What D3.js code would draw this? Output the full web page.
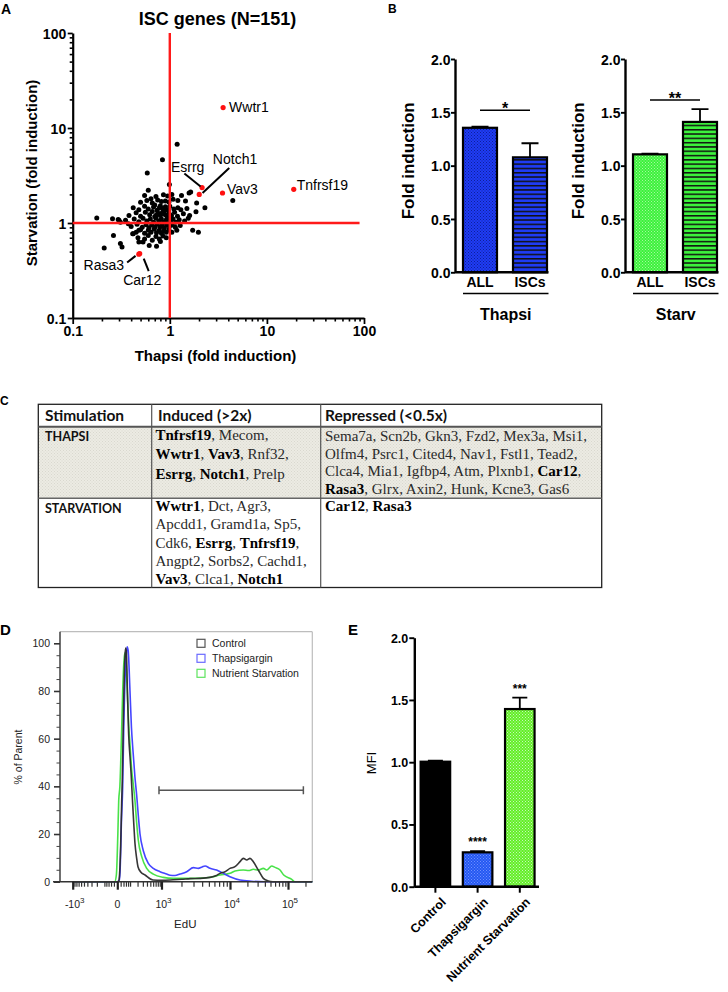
<!DOCTYPE html>
<html><head><meta charset="utf-8">
<script src="https://cdn.jsdelivr.net/npm/d3@7"></script>
<style>
body{margin:0;background:#fff}
svg{display:block;font-family:"Liberation Sans",Arial,sans-serif}
</style>
</head><body>
<svg id="c" width="728" height="992"></svg>
<script>
// ================= DATA =================
// Panel A: ISC genes scatter (Thapsi fold induction, Starvation fold induction)
const scatterBlack = [
 [0.177,1.13],[0.257,1.11],[0.211,0.545],[0.263,0.74],[0.31,0.61],[0.322,0.56],[0.294,1.09],[0.30,1.07],[0.31,1.02],
 [0.374,0.98],[0.415,0.77],[0.42,0.77],[0.48,0.84],[0.48,0.63],[0.614,0.58],[0.73,0.57],[1.72,0.84],[1.97,0.80],
 [2.3,1.45],[4.45,1.73],[1.19,6.73],[0.84,4.64],[0.586,3.36],[0.60,2.21],[0.99,2.55],[1.58,2.07],[1.64,2.12],
 [1.89,1.62],[1.86,1.31],[1.21,1.73],[1.21,1.45],
 [0.55,1.95],[0.72,1.9],[0.86,1.98],[0.95,1.92],[1.05,2.0],[1.32,1.95],[0.64,1.8],
 [0.50,1.65],[0.58,1.72],[0.66,1.62],[0.75,1.75],[0.82,1.68],[0.9,1.7],[0.98,1.66],[1.08,1.78],[1.45,1.7],[0.70,1.55],
 [0.42,1.45],[0.48,1.38],[0.55,1.5],[0.6,1.4],[0.68,1.47],[0.74,1.36],[0.8,1.52],[0.85,1.42],[0.9,1.48],[0.95,1.38],
 [1.0,1.5],[1.1,1.4],[1.3,1.38],[1.5,1.42],[0.78,1.45],[0.88,1.35],
 [0.38,1.2],[0.45,1.28],[0.5,1.18],[0.56,1.3],[0.62,1.22],[0.66,1.32],[0.7,1.17],[0.76,1.27],[0.8,1.2],[0.84,1.3],
 [0.9,1.22],[0.94,1.16],[0.98,1.28],[1.04,1.2],[1.12,1.3],[1.2,1.18],[1.38,1.25],[1.6,1.2],[0.73,1.22],[0.87,1.25],
 [0.35,1.07],[0.43,1.1],[0.48,1.03],[0.53,1.12],[0.58,1.05],[0.63,1.1],[0.68,1.02],[0.72,1.12],[0.77,1.05],[0.82,1.1],
 [0.86,1.02],[0.92,1.08],[0.97,1.13],[1.02,1.04],[1.08,1.1],[1.15,1.02],[1.25,1.08],[1.42,1.05],[1.55,1.12],
 [0.4,0.92],[0.46,0.97],[0.52,0.9],[0.57,0.96],[0.61,0.89],[0.65,0.95],[0.7,0.9],[0.74,0.97],[0.79,0.91],[0.83,0.95],
 [0.88,0.89],[0.93,0.96],[0.99,0.92],[1.06,0.95],[1.14,0.9],[1.28,0.94],
 [0.45,0.8],[0.5,0.85],[0.55,0.78],[0.6,0.84],[0.64,0.8],[0.69,0.86],[0.73,0.79],[0.78,0.84],[0.82,0.78],[0.87,0.83],
 [0.92,0.8],[0.98,0.85],[1.05,0.8],[1.18,0.84],
 [0.47,0.7],[0.55,0.68],[0.6,0.74],[0.66,0.66],[0.72,0.72],[0.78,0.68],[0.85,0.73],[0.92,0.7],[0.53,0.63],[0.8,0.64]
];
const redGenes  = ["Wwtr1","Esrrg","Notch1","Vav3","Tnfrsf19","Rasa3","Car12"];
const redThapsi = [3.54, 2.15, 2.01, 3.49, 18.9, 0.48, 0.49];
const redStarv  = [16.4, 2.36, 2.0, 2.07, 2.26, 0.47, 0.476];
const logTicksA = [0.1, 1, 10, 100];
const logTickLabelsA = ["0.1","1","10","100"];

// Panel B
const bCats = ["ALL","ISCs"];
const thapsiMean = [1.355, 1.078];
const thapsiErrTop = [1.365, 1.21];
const starvMean = [1.106, 1.41];
const starvErrTop = [1.112, 1.53];
const bTicks = [0, 0.5, 1.0, 1.5, 2.0];
const thapsiSig = {level: 1.52, label: "*"};
const starvSig = {level: 1.615, label: "**"};

// Panel C table
const tableHeader = ["Stimulation","Induced (>2x)","Repressed (<0.5x)"];
const thapsiInduced = [
 [["Tnfrsf19",1],[", Mecom,",0]],
 [["Wwtr1",1],[", ",0],["Vav3",1],[", Rnf32,",0]],
 [["Esrrg",1],[", ",0],["Notch1",1],[", Prelp",0]]
];
const thapsiRepressed = [
 [["Sema7a, Scn2b, Gkn3, Fzd2, Mex3a, Msi1,",0]],
 [["Olfm4, Psrc1, Cited4, Nav1, Fstl1, Tead2,",0]],
 [["Clca4, Mia1, Igfbp4, Atm, Plxnb1, ",0],["Car12",1],[",",0]],
 [["Rasa3",1],[", Glrx, Axin2, Hunk, Kcne3, Gas6",0]]
];
const starvInduced = [
 [["Wwtr1",1],[", Dct, Agr3,",0]],
 [["Apcdd1, Gramd1a, Sp5,",0]],
 [["Cdk6, ",0],["Esrrg",1],[", ",0],["Tnfrsf19",1],[",",0]],
 [["Angpt2, Sorbs2, Cachd1,",0]],
 [["Vav3",1],[", Clca1, ",0],["Notch1",1]]
];
const starvRepressed = [[["Car12",1],[", ",0],["Rasa3",1]]];

// Panel D histograms [EdU, % of Parent]
const controlHist = [[-1000,0],[0,0],[8,0.3],[12,2],[20,15],[27,34],[31,42],[38,65],[44,82],[52,95],[58,98],[64,96],[72,82],[85,62],[100,52],[112,45],[128,34],[145,24],[161,16],[185,10],[207,6.3],[260,4],[350,2.8],[594,0.7],[1000,0.6],[1500,0.8],[2000,1.0],[2700,1.3],[3700,1.4],[5200,1.8],[6400,2.6],[7200,3.5],[8500,4.2],[10000,5.6],[12200,6.3],[14900,8.4],[17000,9.8],[19500,9.1],[22200,9.8],[25300,8.4],[30800,4.9],[37600,1.4],[45800,0.3],[55000,0],[262144,0]];
const thapsiHist = [[-1000,0],[0,0],[10,0.3],[16,4],[25,25],[34,40],[42,65],[49,80],[60,93],[70,98.5],[80,97],[99,80],[115,65],[134,55],[160,44],[187,36],[215,27],[243,20],[310,13],[438,7.7],[605,5.6],[914,4.2],[1200,3.2],[1348,2.7],[1600,2.6],[1900,3.2],[2390,4.2],[2980,5.9],[3520,5.6],[4000,6.2],[4400,6.6],[5190,5.6],[6450,4.9],[7600,3.9],[10000,2.1],[14900,0.7],[23300,0.2],[40200,0],[262144,0]];
const starvHist = [[-1000,0],[-15,0],[-5,3],[3,20],[8,34],[15,40],[25,60],[34,80],[44,93],[52,96],[60,93],[70,82],[85,66],[99,58],[118,47],[134,42],[161,34],[185,25],[212,17.5],[276,10.5],[393,5.6],[605,3.2],[1066,1.8],[1500,1.4],[2500,1.4],[4000,1.5],[5500,2.0],[7210,2.8],[10000,3.5],[12200,4.5],[17000,4.9],[21000,4.7],[25300,5.2],[30800,4.9],[37600,5.6],[43000,4.9],[52500,6.6],[59800,6.0],[72900,4.9],[84400,2.8],[116000,1.0],[130000,0],[262144,0]];
const histNames = ["Control","Thapsigargin","Nutrient Starvation"];
const dYTicks = [0,20,40,60,80,100];
const dXMajor = [-1000,0,1000,10000,100000];
const dXLabels = [["-10","3"],["0",""],["10","3"],["10","4"],["10","5"]];
const dXMinor = [-900,-800,-700,-600,-500,-400,-300,-200,-100,-80,-60,-40,-20,20,40,60,80,100,200,300,400,500,600,700,800,900,
  2000,3000,4000,5000,6000,7000,8000,9000,20000,30000,40000,50000,60000,70000,80000,90000,200000];
const gate = {from: 860, to: 184000, level: 38.4};

// Panel E
const eCats = ["Control","Thapsigargin","Nutrient Starvation"];
const eMean = [1.004, 0.276, 1.427];
const eErrTop = [1.012, 0.285, 1.518];
const eSig = ["", "****", "***"];
const eTicks = [0, 0.5, 1.0, 1.5, 2.0];

// ================= DRAW =================
const SANS = "'Liberation Sans',Arial,sans-serif";
const svg = d3.select("#c");
svg.append("rect").attr("width",728).attr("height",992).attr("fill","#fff");
const defs = svg.append("defs");
function dotPattern(id, bg, dot, s){
  const p = defs.append("pattern").attr("id",id).attr("width",s).attr("height",s).attr("patternUnits","userSpaceOnUse");
  p.append("rect").attr("width",s).attr("height",s).attr("fill",bg);
  p.append("rect").attr("width",1).attr("height",1).attr("fill",dot);
  p.append("rect").attr("x",s/2).attr("y",s/2).attr("width",1).attr("height",1).attr("fill",dot);
}
function stripePattern(id, bg, h, lw){
  const p = defs.append("pattern").attr("id",id).attr("width",8).attr("height",h).attr("patternUnits","userSpaceOnUse");
  p.append("rect").attr("width",8).attr("height",h).attr("fill",bg);
  p.append("rect").attr("width",8).attr("height",lw).attr("fill","#111");
}
dotPattern("blueDots","#1f3cf5","#0d1f9a",3);
stripePattern("blueStripes","#1f3cf5",4.3,1.5);
dotPattern("greenDots","#3cf23c","#a8f8a0",3);
stripePattern("greenStripes","#3cf23c",4.3,1.5);
dotPattern("eBlue","#2458f2","#6f90ff",3);
dotPattern("eGreen","#63ef25","#c8f7c0",3);
dotPattern("tableBg","#ecebe3","#d9d8cf",3);

function panelLabel(t,x,y,size){
  svg.append("text").attr("x",x).attr("y",y).text(t).attr("font-weight","bold").attr("font-size",size).attr("fill","#000");
}

// ---------- Panel A ----------
panelLabel("A",1,14,14);
const xA = d3.scaleLog().domain([0.1,100]).range([72.7,364]);
const yA = d3.scaleLog().domain([0.1,100]).range([318,33]);
const minorA = [0.1,1,10].flatMap(d=>[2,3,4,5,6,7,8,9].map(k=>d*k));
const gA = svg.append("g");
gA.append("text").attr("x",217.5).attr("y",24.5).attr("text-anchor","middle")
  .attr("font-weight","bold").attr("font-size",18).text("ISC genes (N=151)");

function styleAxis(g, fs, sw){
  g.select(".domain").attr("stroke","#000").attr("stroke-width",sw);
  g.selectAll(".tick line").attr("stroke","#000").attr("stroke-width",sw*0.8);
  g.selectAll(".tick text").attr("font-weight","bold").attr("font-size",fs).attr("fill","#000")
    .attr("font-family",SANS);
}
const axAx = gA.append("g").attr("transform","translate(0,318)")
  .call(d3.axisBottom(xA).tickValues(logTicksA).tickFormat((d,i)=>logTickLabelsA[i]).tickSize(6).tickSizeOuter(0).tickPadding(2));
styleAxis(axAx,14,2.2);
const axAxm = gA.append("g").attr("transform","translate(0,318)")
  .call(d3.axisBottom(xA).tickValues(minorA).tickFormat("").tickSize(3.5).tickSizeOuter(0));
axAxm.select(".domain").remove(); axAxm.selectAll(".tick line").attr("stroke","#000").attr("stroke-width",1.6);
const axAy = gA.append("g").attr("transform","translate(72.7,0)")
  .call(d3.axisLeft(yA).tickValues(logTicksA).tickFormat((d,i)=>logTickLabelsA[i]).tickSize(5).tickSizeOuter(0).tickPadding(1.5));
styleAxis(axAy,14,2.2);
axAy.selectAll(".tick text").attr("dy","0.36em");
const axAym = gA.append("g").attr("transform","translate(72.7,0)")
  .call(d3.axisLeft(yA).tickValues(minorA).tickFormat("").tickSize(3).tickSizeOuter(0));
axAym.select(".domain").remove(); axAym.selectAll(".tick line").attr("stroke","#000").attr("stroke-width",1.6);

gA.append("text").attr("x",215.5).attr("y",361).attr("text-anchor","middle").attr("font-weight","bold")
  .attr("font-size",15).text("Thapsi (fold induction)");
gA.append("text").attr("transform","translate(37,173) rotate(-90)").attr("text-anchor","middle")
  .attr("font-weight","bold").attr("font-size",15).text("Starvation (fold induction)");

gA.append("g").selectAll("circle").data(scatterBlack).join("circle")
  .attr("cx",d=>xA(d[0])).attr("cy",d=>yA(d[1])).attr("r",2.5).attr("fill","#000");
gA.append("line").attr("x1",xA(1)).attr("x2",xA(1)).attr("y1",yA(100)).attr("y2",yA(0.1))
  .attr("stroke","#ff1a1a").attr("stroke-width",2.4);
gA.append("line").attr("x1",xA(0.1)).attr("x2",xA(90)).attr("y1",yA(1)).attr("y2",yA(1))
  .attr("stroke","#ff1a1a").attr("stroke-width",2.4);
const redPts = redGenes.map((g,i)=>({g, x:xA(redThapsi[i]), y:yA(redStarv[i])}));
gA.append("g").selectAll("circle").data(redPts).join("circle")
  .attr("cx",d=>d.x).attr("cy",d=>d.y).attr("r",2.6).attr("fill","#ff1010");
const labelLayout = {
  Wwtr1:{dx:6,dy:4.4,anchor:"start"},
  Esrrg:{dx:-14.4,dy:-15.6,anchor:"middle",lead:[-17.7,-14,-1.5,-1]},
  Notch1:{dx:35.8,dy:-30,anchor:"middle",lead:[30,-26.3,3.3,-1.3]},
  Vav3:{dx:4.5,dy:1.5,anchor:"start"},
  Tnfrsf19:{dx:3,dy:0.5,anchor:"start"},
  Rasa3:{dx:-35,dy:16,anchor:"middle",lead:[-11.7,8.4,-3.3,1.7]},
  Car12:{dx:2.5,dy:31,anchor:"middle",lead:[4,5,9,17.4]}
};
redPts.forEach(p=>{
  const L = labelLayout[p.g];
  gA.append("text").attr("x",p.x+L.dx).attr("y",p.y+L.dy).attr("text-anchor",L.anchor)
    .attr("font-size",14).attr("fill","#000").text(p.g);
  if(L.lead) gA.append("line").attr("x1",p.x+L.lead[0]).attr("y1",p.y+L.lead[1])
    .attr("x2",p.x+L.lead[2]).attr("y2",p.y+L.lead[3]).attr("stroke","#000").attr("stroke-width",2);
});

// ---------- Panel B ----------
panelLabel("B",388,13,12);
const yB = d3.scaleLinear().domain([0,2]).range([272.3,59]);
function barPanel(x0, means, errs, fills, sig, group){
  const g = svg.append("g");
  const xb = d3.scaleBand().domain(bCats).range([x0, x0+100]).paddingInner(0.32).paddingOuter(0.16);
  const ay = g.append("g").attr("transform",`translate(${x0},0)`)
    .call(d3.axisLeft(yB).tickValues(bTicks).tickFormat(d3.format(".1f")).tickSize(4).tickSizeOuter(0).tickPadding(0.5));
  styleAxis(ay,14,2.4);
  ay.selectAll(".tick text").attr("dy","0.36em");
  const bars = bCats.map((c,i)=>({c, v:means[i], e:errs[i], f:fills[i]}));
  g.selectAll(".err").data(bars).join("path")
    .attr("d",d=>{const cx=xb(d.c)+xb.bandwidth()/2; return `M${cx},${yB(d.v)}V${yB(d.e)}M${cx-8.5},${yB(d.e)}H${cx+8.5}`;})
    .attr("stroke","#000").attr("stroke-width",1.8).attr("fill","none");
  g.selectAll(".bar").data(bars).join("rect")
    .attr("x",d=>xb(d.c)).attr("width",xb.bandwidth()).attr("y",d=>yB(d.v)).attr("height",d=>yB(0)-yB(d.v))
    .attr("fill",d=>d.f).attr("stroke","#000").attr("stroke-width",2.2);
  const xend = xb(bCats[1])+xb.bandwidth()+1.5;
  g.append("line").attr("x1",x0).attr("x2",xend).attr("y1",yB(0)).attr("y2",yB(0)).attr("stroke","#000").attr("stroke-width",2.4);
  const ax = g.append("g").attr("transform",`translate(0,${yB(0)})`)
    .call(d3.axisBottom(xb).tickSize(0).tickPadding(4.5));
  ax.select(".domain").remove();
  styleAxis(ax,14,0);
  g.append("line").attr("x1",xb(bCats[0])).attr("x2",xend).attr("y1",293.5).attr("y2",293.5).attr("stroke","#000").attr("stroke-width",1.5);
  g.append("text").attr("x",(xb(bCats[0])+xend)/2).attr("y",320).attr("text-anchor","middle")
    .attr("font-weight","bold").attr("font-size",16).text(group);
  const c0 = xb(bCats[0])+xb.bandwidth()/2, c1 = xb(bCats[1])+xb.bandwidth()/2;
  g.append("line").attr("x1",c0).attr("x2",c1).attr("y1",yB(sig.level)).attr("y2",yB(sig.level)).attr("stroke","#000").attr("stroke-width",1.5);
  g.append("text").attr("x",(c0+c1)/2).attr("y",yB(sig.level)+3.5).attr("text-anchor","middle")
    .attr("font-weight","bold").attr("font-size",16).text(sig.label);
  g.append("text").attr("transform",`translate(${x0-41},160.8) rotate(-90)`).attr("text-anchor","middle")
    .attr("font-weight","bold").attr("font-size",17).text("Fold induction");
}
barPanel(455, thapsiMean, thapsiErrTop, ["url(#blueDots)","url(#blueStripes)"], thapsiSig, "Thapsi");
barPanel(625, starvMean, starvErrTop, ["url(#greenDots)","url(#greenStripes)"], starvSig, "Starv");

// ---------- Panel C: table ----------
panelLabel("C",0,405,12);
const gC = svg.append("g");
const colX = [38.3,151.7,320.7,601.7];
const rowY = [404.3,426.7,498.3,587.5];
gC.append("rect").attr("x",colX[0]).attr("y",rowY[1]).attr("width",colX[3]-colX[0]).attr("height",rowY[2]-rowY[1]).attr("fill","url(#tableBg)");
gC.append("rect").attr("x",colX[0]).attr("y",rowY[0]).attr("width",colX[3]-colX[0]).attr("height",rowY[3]-rowY[0])
  .attr("fill","none").attr("stroke","#222").attr("stroke-width",1.3);
gC.append("line").attr("x1",colX[0]).attr("x2",colX[3]).attr("y1",rowY[1]).attr("y2",rowY[1]).attr("stroke","#555").attr("stroke-width",2);
gC.append("line").attr("x1",colX[0]).attr("x2",colX[3]).attr("y1",rowY[2]).attr("y2",rowY[2]).attr("stroke","#666").attr("stroke-width",1.6);
[colX[1],colX[2]].forEach(x=>gC.append("line").attr("x1",x).attr("x2",x).attr("y1",rowY[0]).attr("y2",rowY[3]).attr("stroke","#555").attr("stroke-width",1.2));
const hdrX = [45,158,325];
tableHeader.forEach((h,i)=>gC.append("text").attr("x",hdrX[i]).attr("y",420.5).text(h)
  .attr("font-family","Lato,'Open Sans',sans-serif").attr("font-weight",700).attr("font-size",15.5).attr("fill","#111"));
gC.append("text").attr("x",45).attr("y",441).text("THAPSI").attr("font-family","Lato,sans-serif").attr("font-weight",700).attr("font-size",12.5).attr("fill","#111");
gC.append("text").attr("x",45).attr("y",513).text("STARVATION").attr("font-family","Lato,sans-serif").attr("font-weight",700).attr("font-size",12.5).attr("fill","#111");
function cellLines(lines, x, y0, lh){
  lines.forEach((segs,i)=>{
    const t = gC.append("text").attr("x",x).attr("y",y0+i*lh)
      .attr("font-family","'Liberation Serif','DejaVu Serif',serif").attr("font-size",15).attr("fill","#1a1a1a");
    segs.forEach(s=>t.append("tspan").text(s[0]).attr("font-weight",s[1]?"bold":"normal").attr("fill",s[1]?"#000":"#2a2a2a"));
  });
}
cellLines(thapsiInduced,155.5,440,19.3);
cellLines(thapsiRepressed,325,441,17.5);
cellLines(starvInduced,155.5,511,18.3);
cellLines(starvRepressed,325,511,18.3);

// ---------- Panel D: histogram ----------
panelLabel("D",0,635,15);
const gD = svg.append("g");
const xD = d3.scaleSymlog().constant(100).domain([-1000,0,1000,10000,100000,262144]).range([72.7,117.3,161.5,230,288,312.3]);
const yD = d3.scaleLinear().domain([0,100]).range([881.7,643.3]);
gD.append("line").attr("x1",60).attr("x2",312.3).attr("y1",631.7).attr("y2",631.7).attr("stroke","#bdbdbd").attr("stroke-width",1.2);
gD.append("line").attr("x1",312.3).attr("x2",312.3).attr("y1",631.7).attr("y2",881.7).attr("stroke","#bdbdbd").attr("stroke-width",1.2);
const lineD = d3.line().x(d=>xD(d[0])).y(d=>yD(d[1])).curve(d3.curveMonotoneX);
const histColors = ["#2b2b2b","#3b3bff","#3fe03f"];
[starvHist, thapsiHist, controlHist].forEach((h,i)=>{
  const col = [histColors[2],histColors[1],histColors[0]][i];
  gD.append("path").datum(h).attr("d",lineD).attr("fill","none").attr("stroke",col).attr("stroke-width",1.6).attr("stroke-opacity",0.95);
});
const ayD = gD.append("g").attr("transform","translate(60,0)")
  .call(d3.axisLeft(yD).tickValues(dYTicks).tickSize(6).tickPadding(4).tickSizeOuter(0));
ayD.select(".domain").attr("stroke","#333").attr("stroke-width",1.4).attr("d","M0,631.7V881.7");
ayD.selectAll(".tick line").attr("stroke","#333").attr("stroke-width",1.6);
ayD.selectAll(".tick text").attr("font-size",10.5).attr("fill","#222").attr("font-family",SANS);
const ayDm = gD.append("g").attr("transform","translate(60,0)")
  .call(d3.axisLeft(yD).tickValues(d3.range(0,101,5).filter(v=>v%20)).tickSize(3.5).tickFormat("").tickSizeOuter(0));
ayDm.select(".domain").remove(); ayDm.selectAll(".tick line").attr("stroke","#444").attr("stroke-width",1);
gD.append("line").attr("x1",53).attr("x2",312.3).attr("y1",881.7).attr("y2",881.7).attr("stroke","#333").attr("stroke-width",1.6);
const axDM = gD.append("g").attr("transform","translate(0,881.7)")
  .call(d3.axisBottom(xD).tickValues(dXMajor).tickSize(8).tickFormat("").tickSizeOuter(0));
axDM.select(".domain").remove(); axDM.selectAll(".tick line").attr("stroke","#222").attr("stroke-width",2.2);
const axDm = gD.append("g").attr("transform","translate(0,881.7)")
  .call(d3.axisBottom(xD).tickValues(dXMinor).tickSize(5).tickFormat("").tickSizeOuter(0));
axDm.select(".domain").remove(); axDm.selectAll(".tick line").attr("stroke","#333").attr("stroke-width",1.2);
dXMajor.forEach((v,i)=>{
  const t = gD.append("text").attr("x",xD(v)+(dXLabels[i][1]?2:0)).attr("y",908).attr("text-anchor","middle")
    .attr("font-size",10.5).attr("fill","#222");
  t.append("tspan").text(dXLabels[i][0]);
  if(dXLabels[i][1]) t.append("tspan").text(dXLabels[i][1]).attr("font-size",8).attr("dy",-5.5);
});
gD.append("text").attr("x",185.3).attr("y",928).attr("text-anchor","middle").attr("font-size",11.5).attr("fill","#222").text("EdU");
gD.append("text").attr("transform","translate(22,757) rotate(-90)").attr("text-anchor","middle").attr("font-size",10.5).attr("fill","#222").text("% of Parent");
const gx0 = xD(gate.from), gx1 = xD(gate.to), gy = yD(gate.level);
gD.append("path").attr("d",`M${gx0},${gy}H${gx1}M${gx0},${gy-4}V${gy+4}M${gx1},${gy-4}V${gy+4}`)
  .attr("stroke","#555").attr("stroke-width",1.5).attr("fill","none");
const legCols = ["#555","#6a6aff","#5ee35e"];
histNames.forEach((n,i)=>{
  const y = 643.3 + i*15;
  gD.append("rect").attr("x",197).attr("y",y-4).attr("width",8).attr("height",8).attr("fill","#fff").attr("stroke",legCols[i]).attr("stroke-width",1.2);
  gD.append("text").attr("x",212).attr("y",y+3.8).attr("font-size",10.5).attr("fill","#222").text(n);
});

// ---------- Panel E ----------
panelLabel("E",348,635,15);
const gE = svg.append("g");
const yE = d3.scaleLinear().domain([0,2]).range([886.7,637.7]);
const xE = d3.scaleBand().domain(eCats).range([414.3,540.9]).paddingInner(0.3).paddingOuter(0.15);
const eFills = ["#000","url(#eBlue)","url(#eGreen)"];
const eData = eCats.map((c,i)=>({c, v:eMean[i], e:eErrTop[i], f:eFills[i], s:eSig[i]}));
gE.selectAll(".err").data(eData).join("path")
  .attr("d",d=>{const cx=xE(d.c)+xE.bandwidth()/2; return `M${cx},${yE(d.v)}V${yE(d.e)}M${cx-7.5},${yE(d.e)}H${cx+7.5}`;})
  .attr("stroke","#000").attr("stroke-width",1.8).attr("fill","none");
gE.selectAll(".bar").data(eData).join("rect")
  .attr("x",d=>xE(d.c)).attr("width",xE.bandwidth()).attr("y",d=>yE(d.v)).attr("height",d=>yE(0)-yE(d.v))
  .attr("fill",d=>d.f).attr("stroke","#000").attr("stroke-width",2.2);
gE.selectAll(".sig").data(eData).join("text")
  .attr("x",d=>xE(d.c)+xE.bandwidth()/2).attr("y",d=>yE(d.e)-5).attr("text-anchor","middle")
  .attr("font-weight","bold").attr("font-size",12).text(d=>d.s);
const ayE = gE.append("g").attr("transform","translate(414.3,0)")
  .call(d3.axisLeft(yE).tickValues(eTicks).tickFormat(d3.format(".1f")).tickSize(5).tickPadding(1).tickSizeOuter(0));
styleAxis(ayE,12.5,2.4);
ayE.selectAll(".tick text").attr("dy","0.36em");
gE.append("line").attr("x1",414.3).attr("x2",539).attr("y1",yE(0)).attr("y2",yE(0)).attr("stroke","#000").attr("stroke-width",2.4);
const axE = gE.append("g").attr("transform",`translate(0,${yE(0)})`)
  .call(d3.axisBottom(xE).tickSize(6).tickFormat(""));
axE.select(".domain").remove(); axE.selectAll(".tick line").attr("stroke","#000").attr("stroke-width",2);
eCats.forEach(c=>{
  const cx = xE(c)+xE.bandwidth()/2;
  gE.append("text").attr("transform",`translate(${cx+5},${yE(0)+10}) rotate(-45)`).attr("text-anchor","end")
    .attr("dy","0.7em").attr("font-weight","bold").attr("font-size",12.5).text(c);
});
gE.append("text").attr("transform","translate(376,763) rotate(-90)").attr("text-anchor","middle").attr("font-size",13).text("MFI");
</script>
</body></html>
